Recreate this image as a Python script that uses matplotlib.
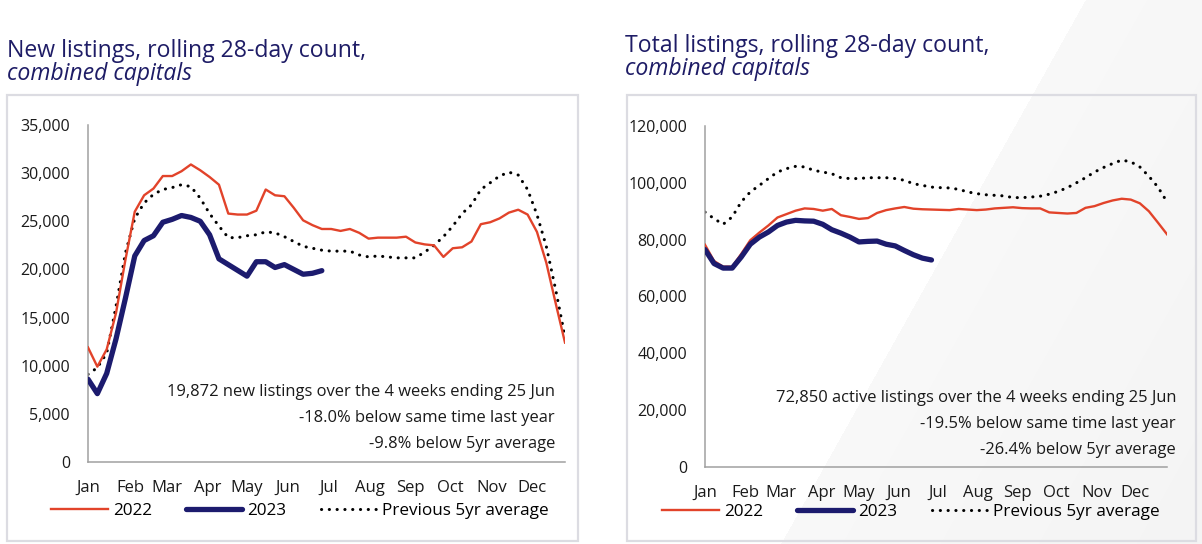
import numpy as np
import matplotlib
matplotlib.use("Agg")
import matplotlib.pyplot as plt
from matplotlib.ticker import FuncFormatter
from matplotlib.patches import Rectangle

plt.rcParams['font.family'] = ['Open Sans', 'DejaVu Sans']

# weekly values, thousands
months = ['Jan', 'Feb', 'Mar', 'Apr', 'May', 'Jun', 'Jul', 'Aug', 'Sep', 'Oct', 'Nov', 'Dec']
month_pos = [0, 4.5, 8.4, 12.85, 17, 21.4, 25.75, 30.15, 34.45, 38.75, 43.2, 47.45]

new_2022 = [11.9, 9.9, 11.7, 15.5, 21.0, 26.0, 27.7, 28.4, 29.7, 29.7,
            30.2, 30.9, 30.3, 29.6, 28.8, 25.8, 25.7, 25.7, 26.1, 28.3,
            27.7, 27.6, 26.4, 25.1, 24.6, 24.2, 24.2, 24.0, 24.2, 23.8,
            23.2, 23.3, 23.3, 23.3, 23.4, 22.8, 22.6, 22.5, 21.3, 22.2,
            22.3, 22.9, 24.7, 24.9, 25.3, 25.9, 26.2, 25.7, 23.9, 20.7,
            16.5, 12.4]
new_2023 = [8.6, 7.1, 9.2, 12.8, 17.0, 21.4, 23.0, 23.5, 24.9, 25.2,
            25.6, 25.4, 25.0, 23.6, 21.1, 20.5, 19.9, 19.3, 20.8, 20.8,
            20.2, 20.5, 20.0, 19.5, 19.6, 19.872]
new_avg = [9.1, 9.8, 11.3, 16.2, 21.7, 25.3, 26.9, 27.8, 28.3, 28.5,
           28.8, 28.6, 27.4, 25.8, 24.5, 23.3, 23.3, 23.5, 23.6, 23.9,
           23.8, 23.4, 22.9, 22.4, 22.2, 22.0, 21.9, 21.9, 21.9, 21.5,
           21.3, 21.4, 21.3, 21.2, 21.2, 21.2, 21.8, 22.5, 23.4, 24.5,
           25.8, 26.7, 28.3, 29.0, 29.7, 30.1, 29.8, 28.3, 25.7, 22.4,
           17.9, 13.0]

tot_2022 = [78.2, 72.5, 70.5, 70.5, 75.0, 79.8, 82.5, 85.0, 87.8, 89.0,
            90.2, 91.0, 90.8, 90.2, 90.8, 88.6, 88.0, 87.3, 87.6, 89.4,
            90.4, 91.0, 91.5, 90.9, 90.7, 90.6, 90.5, 90.4, 90.8, 90.6,
            90.4, 90.6, 91.0, 91.2, 91.4, 91.1, 91.0, 91.0, 89.6, 89.4,
            89.2, 89.4, 91.2, 91.8, 92.9, 93.8, 94.4, 94.1, 92.8, 90.0,
            86.0, 81.9]
tot_2023 = [76.5, 71.6, 70.0, 70.0, 73.9, 78.4, 80.9, 82.7, 85.0, 86.2,
            86.8, 86.6, 86.5, 85.4, 83.5, 82.3, 80.9, 79.2, 79.4, 79.5,
            78.4, 77.8, 76.2, 74.7, 73.5, 72.85]
tot_avg = [89.7, 87.4, 85.4, 88.0, 93.3, 96.8, 99.1, 101.5, 103.8, 105.0,
           105.8, 105.6, 104.4, 103.8, 103.2, 101.8, 101.5, 101.5, 101.8, 101.8,
           101.8, 101.5, 100.9, 99.7, 99.1, 98.5, 98.3, 98.2, 97.7, 96.8,
           96.2, 95.8, 95.6, 95.4, 94.8, 94.8, 95.0, 95.3, 96.0, 97.0,
           98.3, 100.0, 101.8, 103.8, 105.4, 106.8, 108.0, 107.4, 105.6, 102.3,
           98.5, 93.3]

new_notes = ['19,872 new listings over the 4 weeks ending 25 Jun',
             '-18.0% below same time last year',
             '-9.8% below 5yr average']
tot_notes = ['72,850 active listings over the 4 weeks ending 25 Jun',
             '-19.5% below same time last year',
             '-26.4% below 5yr average']

RED = '#e2432a'
NAVY = '#1c1b6e'
TITLE = '#1e1c66'

W, H = 1202, 544
fig = plt.figure(figsize=(W / 100, H / 100), dpi=100)

# very soft grey diagonal background on the right
bg = fig.add_axes([0, 0, 1, 1], zorder=-5)
yy, xx = np.mgrid[0:H, 0:W]
edge = 1085 - 0.56 * yy
shade = np.clip((xx - edge) / 450, 0, 1)
grey = np.where(xx > edge, 0.975 - 0.018 * shade, 1.0)
img = np.repeat(grey[..., None], 3, axis=2)
bg.imshow(img, extent=[0, W, H, 0], aspect='auto', vmin=0, vmax=1)
bg.set_xlim(0, W)
bg.set_ylim(H, 0)
bg.axis('off')


def px(x, y):
    return x / W, 1 - y / H


# panel boxes
for x0, x1 in [(7, 578), (627, 1196)]:
    fig.patches.append(Rectangle(px(x0, 541), (x1 - x0) / W, (541 - 95) / H,
                                 transform=fig.transFigure, fill=False,
                                 edgecolor='#dcdce2', lw=1.6, zorder=-1))


def panel(rect, s22, s23, avg, ymax, ystep, notes, note_xy, title, title_xy, leg_xy):
    ax = fig.add_axes(rect)
    ax.set_facecolor('none')
    x = np.arange(len(s22))
    ax.plot(x, np.array(s22) * 1000, color=RED, lw=1.7, label='2022', zorder=3)
    ax.plot(np.arange(len(s23)), np.array(s23) * 1000, color=NAVY, lw=3.8,
            solid_capstyle='round', label='2023', zorder=4)
    ax.plot(x, np.array(avg) * 1000, color='black', lw=2.2,
            linestyle=(0, (0.05, 2.5)), dash_capstyle='round',
            label='Previous 5yr average', zorder=2)
    ax.set_xlim(0, 51)
    ax.set_ylim(0, ymax)
    ax.set_yticks(np.arange(0, ymax + 1, ystep))
    ax.yaxis.set_major_formatter(FuncFormatter(lambda v, p: f'{v:,.0f}'))
    ax.set_xticks(month_pos)
    ax.set_xticklabels(months)
    ax.tick_params(axis='y', length=0, pad=13, labelsize=11.5, labelcolor='#1a1a1a')
    ax.tick_params(axis='x', length=0, pad=13, labelsize=12, labelcolor='#1a1a1a')
    for s in ['top', 'right']:
        ax.spines[s].set_visible(False)
    for s in ['left', 'bottom']:
        ax.spines[s].set_color('#a0a0a0')
        ax.spines[s].set_linewidth(1.1)

    nx, ny = note_xy
    for i, t in enumerate(notes):
        fig.text(*px(nx, ny + 26 * i), t, ha='right', va='center',
                 fontsize=11.9, color='#1a1a1a')

    tx, ty = title_xy
    fig.text(*px(tx, ty), title, ha='left', va='center', fontsize=16.6, color=TITLE)
    fig.text(*px(tx, ty + 23), 'combined capitals', ha='left', va='center',
             fontsize=16.6, style='italic', color=TITLE)

    fig.legend(*ax.get_legend_handles_labels(), loc='center',
               bbox_to_anchor=px(*leg_xy), ncol=3, frameon=False, fontsize=12.3,
               handlelength=3.3, handletextpad=0.3, columnspacing=2.0,
               borderaxespad=0)
    return ax


panel([88 / W, 1 - 462 / H, 477 / W, 337 / H], new_2022, new_2023, new_avg,
      35000, 5000, new_notes, (555, 392),
      'New listings, rolling 28-day count,', (7, 51), (300, 511))
panel([705 / W, 1 - 467 / H, 462 / W, 341 / H], tot_2022, tot_2023, tot_avg,
      120000, 20000, tot_notes, (1176, 398),
      'Total listings, rolling 28-day count,', (625, 46), (911, 512))

fig.savefig('out.png', dpi=100)
